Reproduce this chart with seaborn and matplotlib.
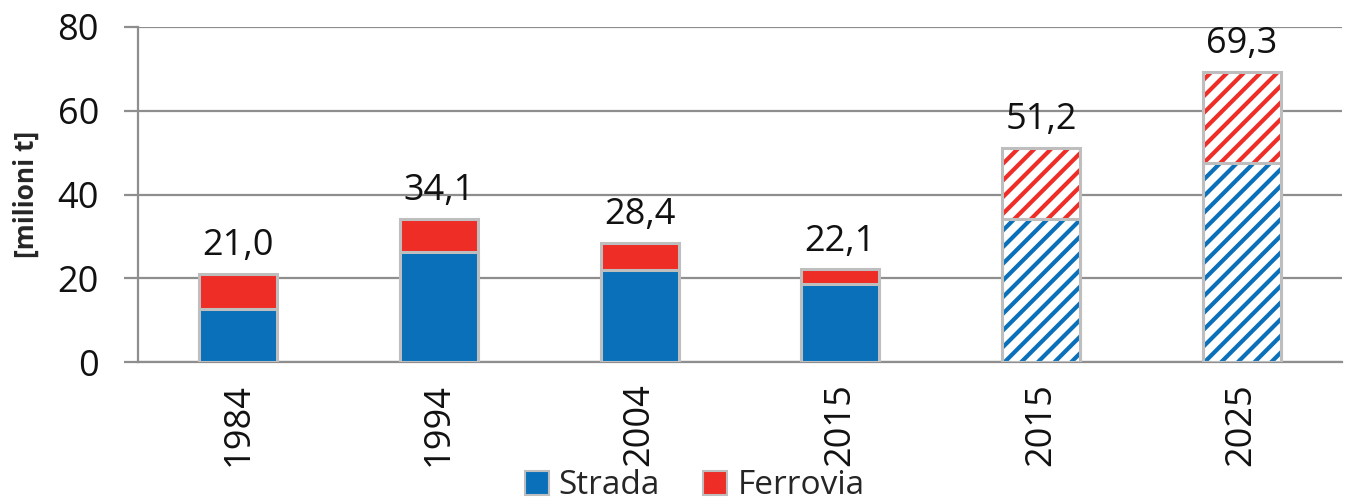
import seaborn as sns
import matplotlib.pyplot as plt
import pandas as pd
from matplotlib.patches import Rectangle, Patch

sns.set_theme(style="white")
plt.rcParams['font.family'] = ['Open Sans', 'DejaVu Sans']
plt.rcParams['hatch.linewidth'] = 3.0

keys = ["a1984", "a1994", "a2004", "a2015", "b2015", "b2025"]
years = ["1984", "1994", "2004", "2015", "2015", "2025"]
strada = [12.7, 26.3, 21.9, 18.7, 34.2, 47.5]
totals = [21.0, 34.1, 28.4, 22.1, 51.2, 69.3]
forecast = [False, False, False, False, True, True]

blue = "#0A70B9"
red = "#EE2D27"
edge = "#BEBEBE"
grid = "#8E8E8E"

df = pd.DataFrame({"key": keys, "strada": strada, "totale": totals})

fig = plt.figure(figsize=(13.46, 5.01), dpi=100)
ax = fig.add_axes([138 / 1346, 1 - 362 / 501, 1204 / 1346, 335 / 501])

# stacked look: full total in red, strada in blue drawn over it
sns.barplot(data=df, x="key", y="totale", color=red, saturation=1, width=0.39,
            edgecolor=edge, linewidth=2.2, ax=ax, zorder=3)
sns.barplot(data=df, x="key", y="strada", color=blue, saturation=1, width=0.39,
            edgecolor=edge, linewidth=2.2, ax=ax, zorder=3)

n = len(keys)
for group, col in ((ax.patches[:n], red), (ax.patches[n:], blue)):
    for p, fc in zip(group, forecast):
        if fc:
            p.set_facecolor("white")
            p.set_edgecolor(col)
            p.set_hatch("//")
            p.set_linewidth(0)
            ax.add_patch(Rectangle(p.get_xy(), p.get_width(), p.get_height(),
                                   fill=False, edgecolor=edge, linewidth=2.2, zorder=4))

labels = [f"{v:.1f}".replace(".", ",") for v in totals]
ax.bar_label(ax.containers[0], labels=labels, padding=7, fontsize=26, color="#111111")

ax.set_ylim(0, 80)
ax.set_xlim(-0.5, n - 0.5)
ax.set_yticks([0, 20, 40, 60, 80])
ax.set_xticks(range(n))
ax.set_xticklabels(years, rotation=90)
ax.yaxis.grid(True, color=grid, linewidth=1.6, zorder=0)
ax.set_axisbelow(True)
ax.tick_params(axis="y", left=True, length=10, width=1.6, color=grid, pad=18,
               labelsize=26, labelcolor="#111111")
ax.tick_params(axis="x", bottom=False, pad=9, labelsize=26, labelcolor="#111111")
for s in ["top", "right"]:
    ax.spines[s].set_visible(False)
for s in ["left", "bottom"]:
    ax.spines[s].set_color(grid)
    ax.spines[s].set_linewidth(1.6)
ax.set_xlabel("")
ax.set_ylabel("[milioni t]", fontsize=19, fontweight="bold")
ax.yaxis.set_label_coords(-0.082, 0.5)

handles = [Patch(facecolor=blue, edgecolor=edge, linewidth=1.5, label="Strada"),
           Patch(facecolor=red, edgecolor=edge, linewidth=1.5, label="Ferrovia")]
fig.legend(handles=handles, loc="center", bbox_to_anchor=(0.516, 0.03), ncol=2,
           frameon=False, fontsize=24, handlelength=0.72, handleheight=0.72,
           handletextpad=0.3, columnspacing=1.3, borderpad=0)

fig.savefig("out.png", dpi=100)
